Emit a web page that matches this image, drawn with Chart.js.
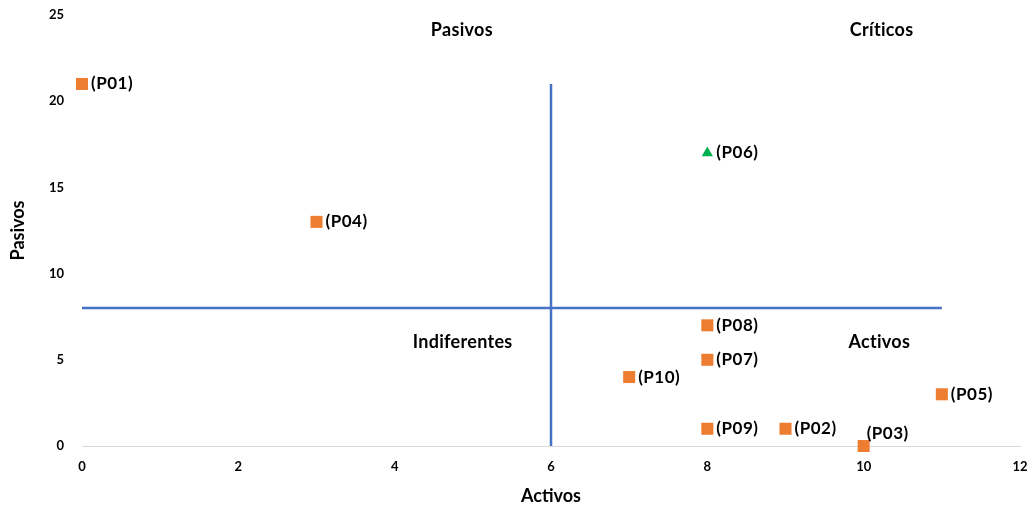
<!DOCTYPE html>
<html>
<head>
<meta charset="utf-8">
<script src="https://cdn.jsdelivr.net/npm/chart.js@4"></script>
<style>
  body { margin: 0; background: #fff; }
</style>
</head>
<body>
<canvas id="chart" width="1031" height="508"></canvas>
<script>
// puntos (activos, pasivos)
const pointNames = ['(P01)', '(P02)', '(P03)', '(P04)', '(P05)', '(P07)', '(P08)', '(P09)', '(P10)'];
const activosVals = [0, 9, 10, 3, 11, 8, 8, 8, 7];
const pasivosVals = [21, 1, 0, 13, 3, 5, 7, 1, 4];

const criticoNames = ['(P06)'];
const criticoActivos = [8];
const criticoPasivos = [17];

// lineas de los cuadrantes
const vLineX = [6, 6];
const vLineY = [0, 21];
const hLineX = [0, 11];
const hLineY = [8, 8];

// etiquetas de cuadrante
const quadNames = ['Pasivos', 'Críticos', 'Indiferentes', 'Activos'];
const quadX = [4.86, 10.23, 4.87, 10.2];
const quadY = [24.1, 24.1, 6.05, 6.05];

const xTicks = [0, 2, 4, 6, 8, 10, 12];
const yTicks = [0, 5, 10, 15, 20, 25];

const FONT = 'Lato, "Open Sans", sans-serif';

function toPoints(xs, ys) {
    return xs.map((x, i) => ({ x: x, y: ys[i] }));
}

const labelPlugin = {
    id: 'labels',
    afterDatasetsDraw(chart) {
        const ctx = chart.ctx;
        ctx.save();
        ctx.fillStyle = '#000';
        ctx.font = 'bold 17px ' + FONT;
        ctx.letterSpacing = '0.5px';
        ctx.textBaseline = 'middle';
        ctx.textAlign = 'left';
        chart.data.datasets.forEach((ds, di) => {
            if (!ds.names) return;
            const meta = chart.getDatasetMeta(di);
            meta.data.forEach((el, i) => {
                const name = ds.names[i];
                if (name === '(P03)') {
                    ctx.fillText(name, el.x + 3, el.y - 12);
                } else {
                    ctx.fillText(name, el.x + 9, el.y);
                }
            });
        });
        // cuadrantes
        const xs = chart.scales.x, ys = chart.scales.y;
        ctx.font = 'bold 18px ' + FONT;
        ctx.letterSpacing = '0.3px';
        ctx.textAlign = 'center';
        quadNames.forEach((q, i) => {
            ctx.fillText(q, xs.getPixelForValue(quadX[i]), ys.getPixelForValue(quadY[i]));
        });
        ctx.restore();
    }
};

new Chart(document.getElementById('chart'), {
    type: 'scatter',
    data: {
        datasets: [
            {
                data: toPoints(vLineX, vLineY),
                showLine: true,
                borderColor: '#4472C4',
                borderWidth: 2.5,
                pointRadius: 0,
                clip: false
            },
            {
                data: toPoints(hLineX, hLineY),
                showLine: true,
                borderColor: '#4472C4',
                borderWidth: 2.5,
                pointRadius: 0,
                clip: false
            },
            {
                data: toPoints(activosVals, pasivosVals),
                names: pointNames,
                pointStyle: 'rect',
                pointRadius: 8.5,
                backgroundColor: '#ED7D31',
                borderWidth: 0,
                clip: false
            },
            {
                data: toPoints(criticoActivos, criticoPasivos),
                names: criticoNames,
                pointStyle: 'triangle',
                pointRadius: 6.5,
                backgroundColor: '#00B050',
                borderWidth: 0,
                clip: false
            }
        ]
    },
    options: {
        responsive: false,
        animation: false,
        devicePixelRatio: 1,
        layout: { padding: { top: 15, right: 11, left: 0, bottom: 0 } },
        plugins: {
            legend: { display: false },
            tooltip: { enabled: false }
        },
        scales: {
            x: {
                min: 0,
                max: 12,
                afterBuildTicks: s => { s.ticks = xTicks.map(v => ({ value: v })); },
                afterFit: s => { s.height = 62; s.paddingLeft = 0; s.paddingRight = 0; },
                grid: { display: false },
                border: { display: true, color: '#D9D9D9', width: 1 },
                ticks: { color: '#000', font: { family: FONT, size: 13, weight: 'bold' }, padding: 5 },
                title: { display: true, text: 'Activos', color: '#000', font: { family: FONT, size: 18, weight: 'bold' }, padding: { top: 6, bottom: 1 } }
            },
            y: {
                min: 0,
                max: 25,
                afterBuildTicks: s => { s.ticks = yTicks.map(v => ({ value: v })); },
                afterFit: s => { s.width = 82; s.paddingTop = 0; s.paddingBottom = 0; },
                grid: { display: false },
                border: { display: false },
                ticks: { color: '#000', font: { family: FONT, size: 13, weight: 'bold' }, padding: 10 },
                title: { display: true, text: 'Pasivos', color: '#000', font: { family: FONT, size: 18, weight: 'bold' }, padding: { top: 7, bottom: 6 } }
            }
        }
    },
    plugins: [labelPlugin]
});
</script>
</body>
</html>
